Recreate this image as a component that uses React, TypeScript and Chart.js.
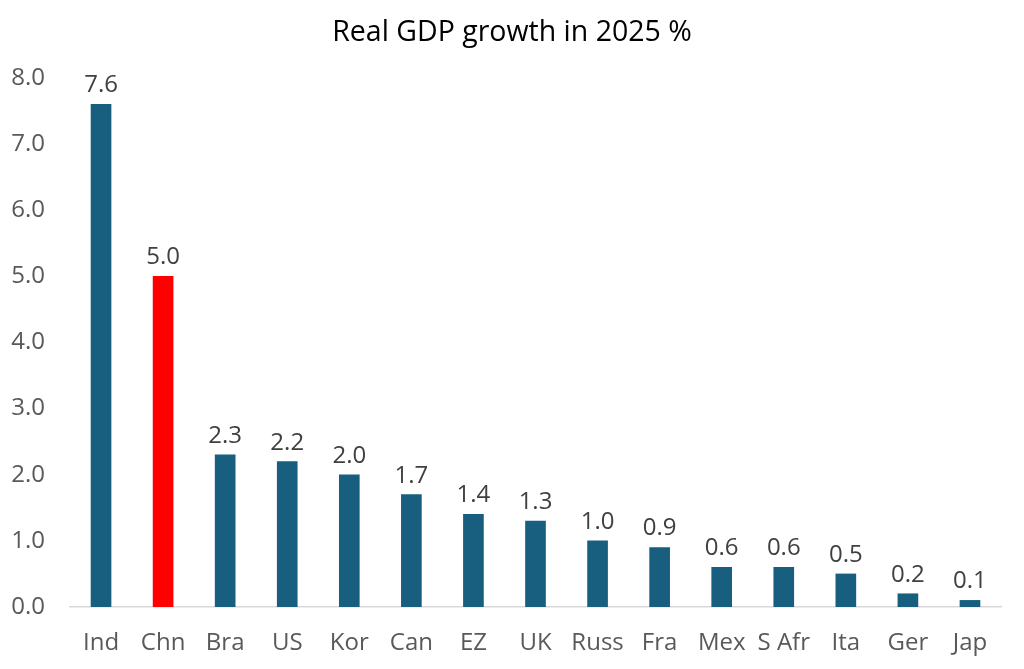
import React, { useEffect, useRef } from "react";
import { Chart, registerables } from "chart.js";

Chart.register(...registerables);

const categories = ["Ind", "Chn", "Bra", "US", "Kor", "Can", "EZ", "UK", "Russ", "Fra", "Mex", "S Afr", "Ita", "Ger", "Jap"];
const growth = [7.6, 5.0, 2.3, 2.2, 2.0, 1.7, 1.4, 1.3, 1.0, 0.9, 0.6, 0.6, 0.5, 0.2, 0.1];
const highlight = "Chn";
const yTicks = [0, 1, 2, 3, 4, 5, 6, 7, 8];
const titleText = "Real GDP growth in 2025 %";

const FONT = "'Open Sans', 'Noto Sans', sans-serif";

const labelPlugin = {
  id: "barLabels",
  afterDatasetsDraw(chart: any) {
    const ctx = chart.ctx;
    const meta = chart.getDatasetMeta(0);
    ctx.save();
    ctx.font = `24px ${FONT}`;
    ctx.fillStyle = "#404040";
    ctx.textAlign = "center";
    ctx.textBaseline = "alphabetic";
    meta.data.forEach((bar: any, i: number) => {
      ctx.fillText(growth[i].toFixed(1), bar.x, bar.y - 12);
    });
    // title, centred on the full canvas
    ctx.font = `28.5px ${FONT}`;
    ctx.fillStyle = "#000000";
    ctx.textBaseline = "middle";
    ctx.fillText(titleText, chart.width / 2, 33);
    ctx.restore();
  },
};

export default function App() {
  const ref = useRef<HTMLCanvasElement>(null);
  useEffect(() => {
    if (!ref.current) return;
    const chart = new Chart(ref.current, {
      type: "bar",
      data: {
        labels: categories,
        datasets: [
          {
            data: growth,
            backgroundColor: categories.map((c) => (c === highlight ? "#FF0000" : "#175E7F")),
            barThickness: 20,
          },
        ],
      },
      options: {
        animation: false,
        responsive: true,
        maintainAspectRatio: false,
        layout: { padding: { top: 78, right: 23, bottom: 0, left: 0 } },
        plugins: {
          legend: { display: false },
          tooltip: { enabled: false },
          title: { display: false },
        },
        scales: {
          x: {
            afterFit: (axis: any) => {
              axis.height = 62;
            },
            grid: { display: false, drawTicks: false },
            border: { display: true, color: "#D9D9D9", width: 1.5 },
            ticks: { color: "#595959", font: { family: FONT, size: 24 }, padding: 22 },
          },
          y: {
            min: 0,
            max: 8,
            afterBuildTicks: (axis: any) => {
              axis.ticks = yTicks.map((v) => ({ value: v }));
            },
            afterFit: (axis: any) => {
              axis.width = 70;
            },
            grid: { display: false, drawTicks: false },
            border: { display: false },
            ticks: {
              color: "#595959",
              font: { family: FONT, size: 24 },
              padding: 25,
              callback: (v: any) => Number(v).toFixed(1),
            },
          },
        },
      },
      plugins: [labelPlugin],
    });
    return () => chart.destroy();
  }, []);
  return (
    <div style={{ position: "fixed", left: 0, top: 0, width: 1024, height: 669, background: "#fff" }}>
      <canvas ref={ref} />
    </div>
  );
}
